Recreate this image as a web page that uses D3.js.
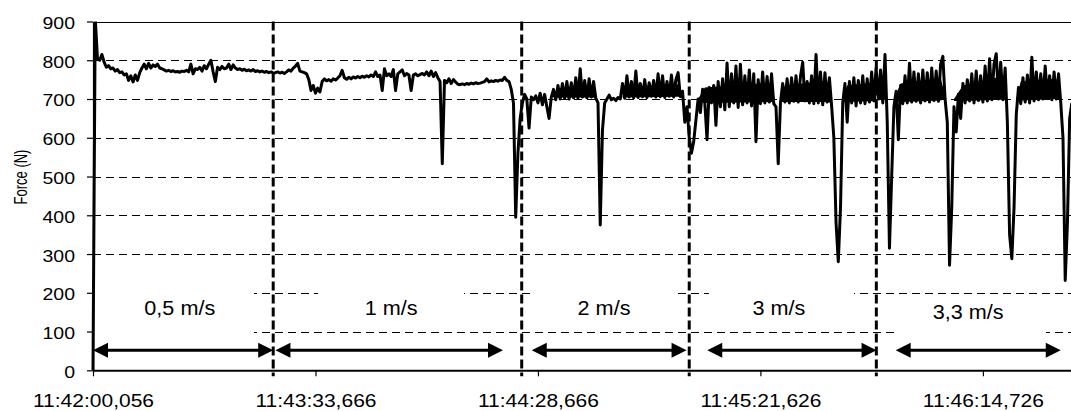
<!DOCTYPE html>
<html><head><meta charset="utf-8">
<script src="https://cdn.jsdelivr.net/npm/d3@7"></script>
<style>
html,body{margin:0;padding:0;background:#fff;}
svg{display:block;font-family:"Liberation Sans",Arial,Helvetica,sans-serif;}
</style>
</head><body>
<svg id="chart" width="1071" height="411"></svg>
<script>
// ---------- data ----------
const timeTickIdx = [0, 100, 200, 300, 400];
const timeTickLabels = ["11:42:00,056", "11:43:33,666", "11:44:28,666", "11:45:21,626", "11:46:14,726"];
const yTicks = [0, 100, 200, 300, 400, 500, 600, 700, 800, 900];
const yTitle = "Force (N)";
const speedLabels = ["0,5 m/s", "1 m/s", "2 m/s", "3 m/s", "3,3 m/s"];
const speedChangeIdx = [81, 192.7, 268, 352.1];
const arrowFrom = [0, 82, 197.2, 276.1, 360.8];
const arrowTo = [81, 184.3, 266.8, 352.2, 435];
const arrowValue = 52;
const labelIdx = [39, 134, 229.7, 308.3, 393.4];
const labelValue = [142.7, 142.7, 142.7, 142.7, 133.6];

// force samples, one array per speed phase
const force05 = [0, 910, 805, 800, 815, 795, 782, 786, 778, 780,
  772, 776, 768, 770, 762, 765, 748, 760, 744, 762,
  748, 768, 780, 790, 778, 792, 780, 788, 784, 790,
  780, 778, 775, 772, 774, 771, 773, 770, 771, 769,
  772, 771, 774, 770, 790, 765, 778, 776, 782, 772,
  786, 778, 790, 800, 770, 745, 782, 776, 784, 778,
  780, 790, 776, 788, 780, 776, 778, 774, 777, 773,
  775, 772, 776, 771, 773, 770, 772, 769, 771, 768,
  770, 767];
const force1 = [768, 770, 767, 769, 766, 770, 775, 772,
  780, 785, 792, 772, 770, 768, 765, 750, 722, 735,
  715, 728, 718, 745, 752, 747, 750, 746, 752, 749,
  754, 760, 774, 755, 751, 756, 752, 757, 754, 758,
  755, 759, 756, 760, 757, 762, 758, 770, 758, 762,
  722, 778, 760, 765, 758, 776, 722, 765, 770, 775,
  760, 766, 762, 722, 762, 765, 760, 763, 766, 762,
  770, 760, 772, 758, 768, 755, 745, 533, 748, 742,
  752, 740, 750, 744, 738, 737, 739, 737, 740, 738,
  741, 739, 742, 740, 741, 743, 745, 752, 744, 747,
  745, 748, 746, 749, 748, 756, 748, 745, 725, 690,
  395, 560, 650];
const force2 = [690, 712, 700, 625, 705, 698, 708,
  690, 715, 685, 712, 680, 650, 705, 725, 698, 735,
  700, 740, 702, 745, 700, 742, 703, 755, 702, 778,
  705, 748, 703, 752, 705, 745, 702, 690, 375, 620,
  690, 700, 710, 698, 702, 696, 704, 700, 740, 702,
  760, 705, 745, 703, 772, 704, 740, 706, 750, 704,
  742, 707, 748, 705, 765, 706, 760, 704, 745, 707,
  762, 705, 750, 768, 706, 720, 640, 680, 600];
const force3 = [560, 590, 645, 700, 665, 725, 690, 595, 730, 690, 735,
  632, 745, 680, 752, 672, 793, 680, 765, 690, 785,
  678, 790, 685, 760, 690, 775, 682, 765, 590, 750,
  688, 770, 690, 758, 692, 765, 688, 680, 533, 690,
  740, 692, 752, 690, 755, 694, 760, 692, 758, 795,
  695, 745, 690, 760, 688, 815, 690, 770, 685, 768,
  692, 755, 682, 600, 380, 280, 420, 690, 740, 640,
  745, 690, 755, 682, 748, 690, 760, 688, 752, 692,
  770, 695, 780];
const force33 = [700, 775, 690, 815, 640, 315, 500,
  680, 720, 595, 735, 688, 760, 690, 792, 692, 770,
  694, 765, 690, 775, 695, 768, 692, 780, 696, 772,
  694, 790, 810, 700, 640, 271, 420, 680, 615, 712,
  650, 740, 690, 750, 695, 765, 690, 772, 696, 760,
  692, 785, 695, 804, 698, 790, 817, 700, 795, 698,
  780, 640, 350, 288, 420, 660, 730, 688, 755, 692,
  762, 690, 808, 695, 770, 698, 765, 700, 785, 702,
  760, 698, 770, 700, 765, 690, 600, 232, 380, 650,
  690];

// dense core of the noisy signal: sample index, lower and upper force (null = gap)
const bandIdx = [206, 209, 223, 226, null, 238, 240, 263, 265, null,
  272, 275, 304, 306, null, 309, 311, 330, 332, null, 337, 339, 350, 352, null,
  353, 354, 356, 357, null, 360, 363, 381, 383, null, 387, 391, 408, 410, null,
  415, 417, 433, 435];
const bandLow = [705, 703, 704, 703, null, 704, 704, 706, 706, null,
  695, 690, 692, 692, null, 692, 692, 692, 690, null, 692, 692, 694, 695, null,
  700, 698, 698, 700, null, 695, 692, 696, 700, null, 695, 695, 698, 698, null,
  698, 696, 700, 698];
const bandHigh = [705, 728, 734, 705, null, 706, 732, 738, 710, null,
  700, 730, 742, 700, null, 700, 735, 748, 700, null, 700, 735, 742, 710, null,
  705, 745, 750, 705, null, 700, 740, 755, 710, null, 700, 735, 758, 705, null,
  700, 745, 752, 700];

const force = [].concat(force05, force1, force2, force3, force33);

// ---------- layout ----------
const plot = {left: 93, right: 1071, top: 21.5, bottom: 370.3};
const svg = d3.select("#chart");

const x = d3.scaleLinear().domain([0, 439.6]).range([plot.left, plot.right]);
const y = d3.scaleLinear().domain([0, 900]).range([plot.bottom, plot.top]);

// gridlines
svg.append("g").selectAll("line").data(yTicks.filter(d => d > 0)).join("line")
  .attr("x1", plot.left).attr("x2", plot.right)
  .attr("y1", d => Math.round(y(d)) + 0.5).attr("y2", d => Math.round(y(d)) + 0.5)
  .attr("stroke", "#000").attr("stroke-width", 1)
  .attr("stroke-dasharray", d => d === 900 ? null : "8,5");

// white label boxes (cover the gridlines like text boxes)
const boxes = [
  {x0: 0, x1: 71.9, v0: 222, v1: 83},
  {x0: 100.7, x1: 166.3, v0: 217.5, v1: 114.3},
  {x0: 197.3, x1: 262.5, v0: 217.5, v1: 114.3},
  {x0: 276.4, x1: 341.6, v0: 217.5, v1: 114.3},
  {x0: 361.3, x1: 427.9, v0: 189, v1: 83}
];
svg.append("g").selectAll("rect").data(boxes).join("rect")
  .attr("x", d => x(d.x0) + 1).attr("width", d => x(d.x1) - x(d.x0))
  .attr("y", d => y(d.v0)).attr("height", d => y(d.v1) - y(d.v0))
  .attr("fill", "#fff");

// data
svg.append("clipPath").attr("id", "clip").append("rect")
  .attr("x", plot.left - 3).attr("y", plot.top)
  .attr("width", plot.right - plot.left + 3).attr("height", plot.bottom - plot.top);
const dataG = svg.append("g").attr("clip-path", "url(#clip)");

const bandData = bandIdx.map((d, i) => ({i: d, lo: bandLow[i], hi: bandHigh[i]}));
const area = d3.area().defined(d => d.i !== null)
  .x(d => x(d.i)).y0(d => y(d.lo)).y1(d => y(d.hi));
dataG.append("path").datum(bandData).attr("d", area).attr("fill", "#000");

const line = d3.line().x((d, i) => x(i)).y(d => y(d));
dataG.append("path").datum(force)
  .attr("d", line)
  .attr("fill", "none").attr("stroke", "#000")
  .attr("stroke-width", 3).attr("stroke-linejoin", "round");

// axes
const yAxis = svg.append("g").attr("transform", `translate(${plot.left},0)`)
  .call(d3.axisLeft(y).tickValues(yTicks).tickSize(6).tickSizeOuter(0));
yAxis.select(".domain").attr("stroke-width", 1.2);
yAxis.selectAll(".tick line").attr("stroke-width", 1.2);
yAxis.selectAll(".tick text")
  .attr("x", null).attr("dy", null)
  .attr("dominant-baseline", "central")
  .attr("text-anchor", "end")
  .attr("font-size", 16.5).attr("fill", "#000")
  .attr("font-family", "Liberation Sans, Arial, sans-serif")
  .attr("transform", "translate(-18,1.5) scale(1.18,1)");

const xAxis = svg.append("g").attr("transform", `translate(0,${plot.bottom})`)
  .call(d3.axisBottom(x).tickValues(timeTickIdx).tickFormat((d, i) => timeTickLabels[i])
    .tickSize(6).tickSizeOuter(0));
xAxis.select(".domain").attr("stroke-width", 2);
xAxis.selectAll(".tick line").attr("stroke-width", 1.2);
xAxis.selectAll(".tick text")
  .attr("y", null).attr("dy", null)
  .attr("text-anchor", "middle")
  .attr("font-size", 18.6).attr("fill", "#000")
  .attr("font-family", "Liberation Sans, Arial, sans-serif")
  .attr("transform", "translate(0,36.2) scale(1.13,1)");

// y title
svg.append("text").text(yTitle)
  .attr("transform", "translate(26.5,177) rotate(-90) scale(1,1.45)")
  .attr("text-anchor", "middle")
  .attr("font-size", 13).attr("fill", "#000");

// speed change dashed lines
svg.append("g").selectAll("line").data(speedChangeIdx).join("line")
  .attr("x1", d => x(d)).attr("x2", d => x(d))
  .attr("y1", plot.top).attr("y2", plot.bottom + 6)
  .attr("stroke", "#000").attr("stroke-width", 3)
  .attr("stroke-dasharray", "9,4");

// arrows
const ay = y(arrowValue);
const hl = 15, hw = 7.5;
const ag = svg.append("g");
arrowFrom.forEach((f, i) => {
  const x0 = x(f), x1 = x(arrowTo[i]);
  ag.append("line").attr("x1", x0 + hl - 1).attr("x2", x1 - hl + 1)
    .attr("y1", ay).attr("y2", ay).attr("stroke", "#000").attr("stroke-width", 3);
  ag.append("path").attr("d", `M${x0},${ay}L${x0 + hl},${ay - hw}L${x0 + hl},${ay + hw}Z`).attr("fill", "#000");
  ag.append("path").attr("d", `M${x1},${ay}L${x1 - hl},${ay - hw}L${x1 - hl},${ay + hw}Z`).attr("fill", "#000");
});

// speed labels
svg.append("g").selectAll("text").data(speedLabels).join("text")
  .text(d => d)
  .attr("text-anchor", "middle")
  .attr("font-size", 19.5).attr("fill", "#000")
  .attr("transform", (d, i) => `translate(${x(labelIdx[i])},${y(labelValue[i])}) scale(1.11,1)`);
</script>
</body></html>
